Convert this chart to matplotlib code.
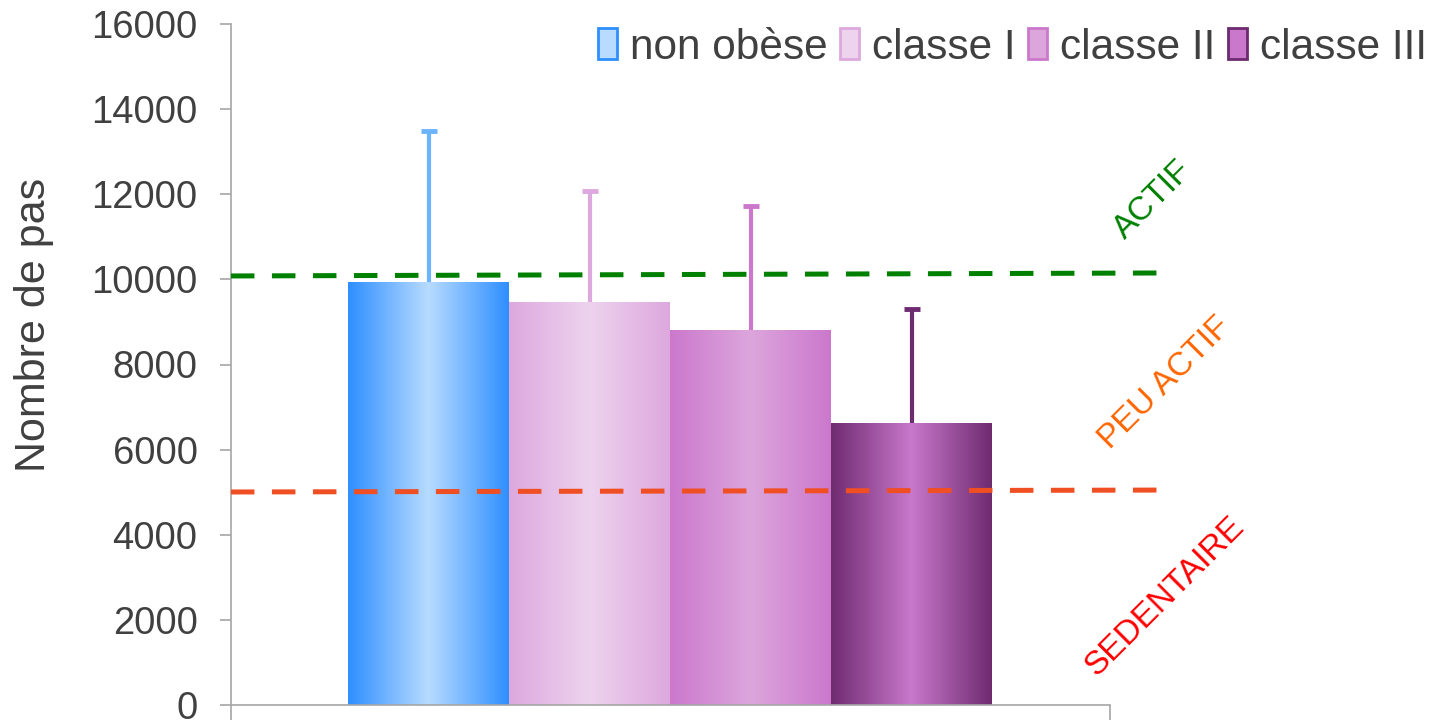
import numpy as np
import matplotlib
matplotlib.use("Agg")
import matplotlib.pyplot as plt
from matplotlib.colors import LinearSegmentedColormap
from matplotlib.patches import Patch

plt.rcParams['font.family'] = ['Liberation Sans', 'DejaVu Sans']

# ---- data ----
categories = ["non obèse", "classe I", "classe II", "classe III"]
means = [9940, 9470, 8810, 6625]
sd_upper = [3550, 2610, 2915, 2680]
yticks = [0, 2000, 4000, 6000, 8000, 10000, 12000, 14000, 16000]
ylabel = "Nombre de pas"
thresholds = {"actif": (10080, 10150), "peu": (5005, 5050)}
zone_labels = ["ACTIF", "PEU ACTIF", "SEDENTAIRE"]
zone_label_y = [11865, 7565, 2560]

# ---- styles ----
edge_cols = ["#2E8FFF", "#DDA8DE", "#CB78CC", "#6E2B70"]
mid_cols = ["#B8DBFF", "#EDD3EE", "#DCA6DC", "#C978CB"]
err_cols = ["#6CB4FF", "#DDA8DE", "#CB78CC", "#6E2B70"]
text_col = "#404040"
spine_col = "#A6A6A6"

fig = plt.figure(figsize=(14.38, 7.2), dpi=100)
ax = fig.add_axes([0.1606, 0.0208, 0.7719 - 0.1606, 0.9667 - 0.0208])

x = np.arange(len(categories)) - 1.5
xmin, xmax = -2.73, 2.73
bars = ax.bar(x, means, width=1.0, color="none", edgecolor="none", zorder=2)

grad = np.abs(np.linspace(-1, 1, 256))
for b, ec, mc in zip(bars, edge_cols, mid_cols):
    cmap = LinearSegmentedColormap.from_list("g", [mc, ec])
    bx, by, bw, bh = b.get_x(), b.get_y(), b.get_width(), b.get_height()
    im = ax.imshow(grad[np.newaxis, :], cmap=cmap, aspect="auto",
                   extent=[bx, bx + bw, by, by + bh], zorder=2, vmin=0, vmax=1)
    im.set_clip_path(b)

# upper-only error bars
for xi, m, s, c in zip(x, means, sd_upper, err_cols):
    ax.vlines(xi, m, m + s, color=c, lw=3, zorder=3)
    ax.plot([xi], [m + s], marker="_", ms=12, mew=3.5, color=c, zorder=3)

# threshold lines
xl = [xmin, 3.04]
ax.plot(xl, list(thresholds["actif"]), color="#008000", lw=3.6,
        dashes=(4.7, 3.5), clip_on=False, zorder=4)
ax.plot(xl, list(thresholds["peu"]), color="#F04E23", lw=3.6,
        dashes=(4.7, 3.5), clip_on=False, zorder=4)

zone_x = [3.0, 3.07, 3.07]
zone_cols = ["#008000", "#FF6600", "#FF0000"]
for lab, zx, zy, zc in zip(zone_labels, zone_x, zone_label_y, zone_cols):
    ax.text(zx, zy, lab, rotation=45, color=zc, fontsize=24,
            ha="center", va="center", rotation_mode="anchor", clip_on=False)

ax.set_xlim(xmin, xmax)
ax.set_ylim(0, 16000)
ax.set_yticks(yticks)
ax.set_yticklabels([str(t) for t in yticks], fontsize=27.5, color=text_col)
ax.tick_params(axis="y", length=8, width=1.2, color=spine_col, pad=16)
ax.set_xticks([xmin, xmax])
ax.set_xticklabels([])
ax.tick_params(axis="x", length=11, width=1.2, color=spine_col, direction="out")
ax.set_ylabel(ylabel, fontsize=31, color=text_col)
ax.yaxis.set_label_coords(-0.201, 0.558)
for sp in ["top", "right"]:
    ax.spines[sp].set_visible(False)
for sp in ["left", "bottom"]:
    ax.spines[sp].set_color(spine_col)
    ax.spines[sp].set_linewidth(1.2)

handles = [Patch(facecolor=mc, edgecolor=ec, linewidth=2) for mc, ec in zip(mid_cols, edge_cols)]
leg = fig.legend(handles, categories, loc="upper right", bbox_to_anchor=(1.004, 0.985),
                 ncol=4, frameon=False, fontsize=30.5, handlelength=0.45, handleheight=0.75,
                 handletextpad=0.3, columnspacing=0.3, borderaxespad=0)
for t in leg.get_texts():
    t.set_color(text_col)

fig.savefig("out.png", dpi=100)
